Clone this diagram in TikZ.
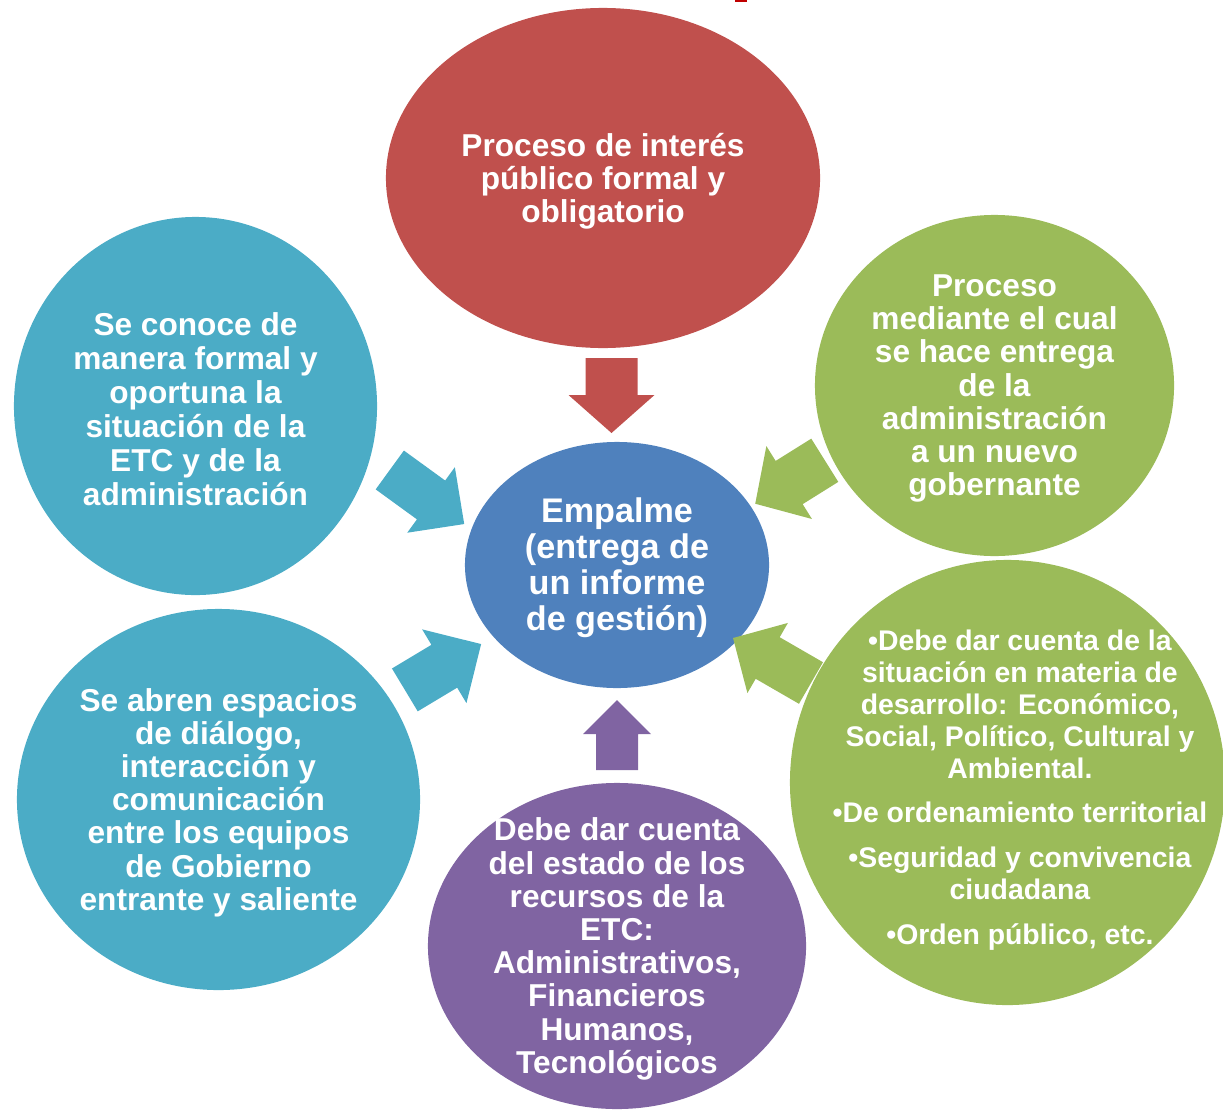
\documentclass[tikz,border=0pt]{standalone}
\usepackage{fontspec}
\setmainfont{Liberation Sans}
\usepackage{xcolor}
\usepackage{tikz}
\usetikzlibrary{shapes.geometric,positioning,calc}

\definecolor{rojo}{HTML}{C0504D}
\definecolor{azul}{HTML}{4F81BD}
\definecolor{turquesa}{HTML}{4BACC6}
\definecolor{verde}{HTML}{9BBB59}
\definecolor{morado}{HTML}{8064A2}
\definecolor{marca}{HTML}{C00000}

% block arrow: centre, angle, length, shaft width, head width, head length, colour
\newcommand{\flecha}[7]{%
  \fill[#7, shift={#1}, rotate=#2]
    ({-#3/2},{-#4/2}) -- ({#3/2-#6},{-#4/2}) -- ({#3/2-#6},{-#5/2}) -- ({#3/2},0)
    -- ({#3/2-#6},{#5/2}) -- ({#3/2-#6},{#4/2}) -- ({-#3/2},{#4/2}) -- cycle;}

\tikzset{
  burbuja/.style={ellipse, inner sep=0pt},
  texto/.style={text=white, align=center, inner sep=0pt, yshift=-0.075cm,
    font=\bfseries\fontsize{22.5}{23.6}\selectfont},
}

\begin{document}
\begin{tikzpicture}[x=0.025cm, y=-0.025cm]
    \useasboundingbox (0,0) rectangle (1223,1111);
    \fill[marca] (735,0) rectangle (747,2);

    % circles
    \node[burbuja, fill=rojo, minimum width=10.85cm, minimum height=8.5cm] (proceso) at (603,178) {};
    \node[burbuja, fill=azul, minimum width=7.6cm, minimum height=6.15cm] (empalme) at (617,565) {};
    \node[burbuja, fill=turquesa, minimum width=9.075cm, minimum height=9.45cm] (conoce) at (195.5,406) {};
    \node[burbuja, fill=verde, minimum width=8.975cm, minimum height=8.525cm] (entrega) at (994.5,385.5) {};
    \node[burbuja, fill=turquesa, minimum width=10.075cm, minimum height=9.525cm] (dialogo) at (218.5,799.5) {};
    \node[burbuja, fill=morado, minimum width=9.45cm, minimum height=8.15cm] (recursos) at (617,946) {};
    \node[burbuja, fill=verde, minimum width=10.875cm, minimum height=11.125cm] (materia) at (1007.5,782.5) {};

    % texts
    \node[texto] (proceso-t) at (proceso) {Proceso de interés\\público formal y\\obligatorio};
    \node[texto, font=\bfseries\fontsize{24.3}{25.6}\selectfont] (empalme-t) at (empalme)
        {Empalme\\(entrega de\\un informe\\de gestión)};
    \node[texto, font=\bfseries\fontsize{22.5}{24.2}\selectfont] (conoce-t) at (conoce)
        {Se conoce de\\manera formal y\\oportuna la\\situación de la\\ETC y de la\\administración};
    \node[texto] (entrega-t) at (entrega)
        {Proceso\\mediante el cual\\se hace entrega\\de la\\administración\\a un nuevo\\gobernante};
    \node[texto] (dialogo-t) at (dialogo)
        {Se abren espacios\\de diálogo,\\interacción y\\comunicación\\entre los equipos\\de Gobierno\\entrante y saliente};
    \node[texto] (recursos-t) at (recursos)
        {Debe dar cuenta\\del estado de los\\recursos de la\\ETC:\\Administrativos,\\Financieros\\Humanos,\\Tecnológicos};
    \node[texto, yshift=-0.11cm, font=\bfseries\fontsize{20.2}{22.8}\selectfont] (materia-t) at ([xshift=0.31cm]materia)
        {•Debe dar cuenta de la\\situación en materia de\\desarrollo: Económico,\\Social, Político, Cultural y\\Ambiental.\\[9pt]•De ordenamiento territorial\\[9pt]•Seguridad y convivencia\\ciudadana\\[9pt]•Orden público, etc.};

    % arrows into the centre
    \flecha{(611.5,395.5)}{-90}{75}{52}{86}{38}{rojo}
    \flecha{(617,735)}{90}{70}{42}{68}{34}{morado}
    \flecha{(427,497)}{-36}{92}{48}{81}{41}{turquesa}
    \flecha{(443,667)}{31}{89}{50}{86}{43}{turquesa}
    \flecha{(790,482)}{212}{82}{51}{86}{40}{verde}
    \flecha{(772,660.5)}{150}{90}{48}{81}{40}{verde}
\end{tikzpicture}
\end{document}
